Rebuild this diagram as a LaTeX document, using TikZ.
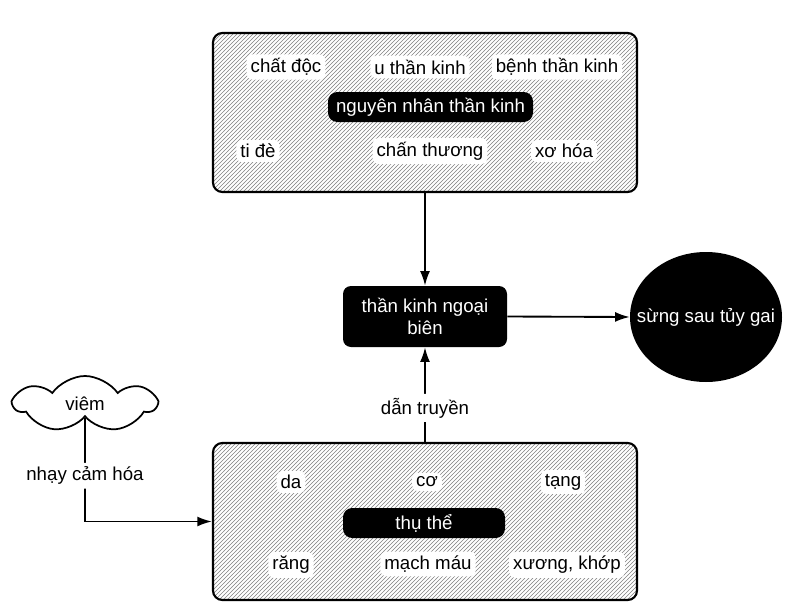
\documentclass[tikz,border=0pt]{standalone}
\usepackage{fontspec}
\setmainfont{Liberation Sans}
\usetikzlibrary{patterns,shapes.symbols,shapes.geometric,arrows.meta}

\begin{document}
\begin{tikzpicture}[x=0.75pt,y=-0.75pt,
  every node/.style={font=\fontsize{14}{16}\selectfont},
  frame/.style={draw,line width=1.6pt,rounded corners=7pt,pattern=north east lines,pattern color=black!50},
  tag/.style={fill=white,rounded corners=4pt,inner sep=3pt},
  pill/.style={fill=black,text=white,rounded corners=7pt},
  arr/.style={-{Latex[length=11pt,width=7.5pt]},line width=1.4pt}]
\useasboundingbox (0,0) rectangle (793,603);

\node[frame,minimum width=318pt,minimum height=119.25pt] (top) at (425,112.5) {};
\node[frame,minimum width=318pt,minimum height=117.75pt] (bot) at (425,521.5) {};

\node[tag] (c1) at (286,67) {chất độc};
\node[tag] (c2) at (420,67) {u thần kinh};
\node[tag] (c3) at (557,67) {bệnh thần kinh};
\node[pill,minimum width=153.75pt,minimum height=22.5pt] (cause) at (430.5,107) {nguyên nhân thần kinh};
\node[tag] (c4) at (258,151) {ti đè};
\node[tag] (c5) at (430,151) {chấn thương};
\node[tag] (c6) at (564,151) {xơ hóa};

\node[tag] (r1) at (291,482) {da};
\node[tag] (r2) at (427,482) {cơ};
\node[tag] (r3) at (563,482) {tạng};
\node[pill,minimum width=121.5pt,minimum height=22.5pt] (recep) at (424,523) {thụ thể};
\node[tag] (r4) at (291,565) {răng};
\node[tag] (r5) at (428,564) {mạch máu};
\node[tag] (r6) at (567,565) {xương, khớp};

\node[pill,rounded corners=6pt,minimum width=123pt,minimum height=45.75pt,align=center] (nerve) at (425,316.5) {thần kinh ngoại\\biên};
\node[ellipse,fill=black,minimum width=114pt,minimum height=97.5pt,inner sep=0pt] (horn) at (706,317) {};
\node[text=white] (hornlbl) at (horn.center) {sừng sau tủy gai};
\node[cloud,draw,line width=1.3pt,cloud puffs=7,cloud puff arc=110,aspect=2.5,minimum width=106pt,minimum height=42pt] (viem) at (85,404) {viêm};

\draw[arr] (top.south) -- (nerve.north);
\draw[arr] (nerve.east) -- (horn.west);
\draw[arr] (bot.north) -- node[tag,pos=0.36] (cond) {dẫn truyền} (nerve.south);
\draw[arr] (viem.south) |- node[tag,pos=0.28] (sens) {nhạy cảm hóa} (bot.west);
\end{tikzpicture}
\end{document}
